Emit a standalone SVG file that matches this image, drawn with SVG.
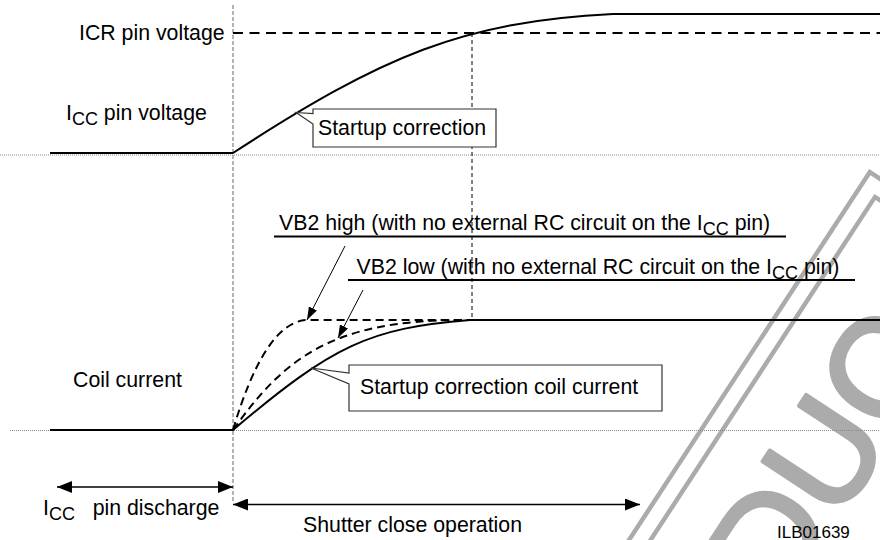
<svg xmlns="http://www.w3.org/2000/svg" width="880" height="540" viewBox="0 0 880 540">
<defs>
<style>
text{font-family:"Liberation Sans",Arial,sans-serif;font-size:21.3px;fill:#000}
.sub{font-size:18px}
.small{font-size:17px}
.grid{stroke:#8a8a8a;stroke-width:1;stroke-dasharray:1 1;fill:none}
.vgrey{stroke:#9a9a9a;stroke-width:1.5;stroke-dasharray:4 2;fill:none}
.wave{stroke:#000;stroke-width:2;fill:none}
.dash{stroke:#000;stroke-width:2;stroke-dasharray:8 5;fill:none}
.icr{stroke:#000;stroke-width:2;stroke-dasharray:10 6.5;fill:none}
.thindash{stroke:#000;stroke-width:1;stroke-dasharray:4 3;fill:none}
.call{fill:#fff;stroke:#333;stroke-width:1.2}
.uline{stroke:#000;stroke-width:2;fill:none}
.arr{stroke:#000;stroke-width:1.3;fill:none}
.ptr{stroke:#000;stroke-width:1;fill:none}
.wm{fill:#ababab;stroke:#ababab;stroke-width:4;stroke-linejoin:round;font-size:140px}
.wmf{fill:none;stroke:#ababab;stroke-width:4.5}
</style>
<marker id="ah" viewBox="0 0 15 12" refX="15" refY="6" markerWidth="15" markerHeight="12" markerUnits="userSpaceOnUse" orient="auto-start-reverse"><path d="M0,0 L15,6 L0,12 Z" fill="#000"/></marker>
<marker id="ahs" viewBox="0 0 13 9" refX="13" refY="4.5" markerWidth="13" markerHeight="9" markerUnits="userSpaceOnUse" orient="auto"><path d="M0,0 L13,4.5 L0,9 Z" fill="#000"/></marker>
</defs>

<g id="watermark" transform="translate(875,197) rotate(-56.8)">
<rect class="wmf" x="-1000" y="0" width="1000" height="200"/>
<rect class="wmf" x="-1018" y="-18" width="1036" height="236"/>
<text class="wm" x="-394.8" y="147">DUC</text>
</g>

<g id="grid">
<line class="grid" x1="0" y1="155" x2="880" y2="155"/>
<line class="grid" x1="10" y1="430.5" x2="880" y2="430.5"/>
<line class="vgrey" x1="233" y1="5" x2="233" y2="503"/>
<line class="thindash" x1="472" y1="33" x2="472" y2="320"/>
</g>

<g id="waveforms">
<line class="icr" x1="233" y1="33" x2="880" y2="33"/>
<path class="wave" d="M50,153 H233 C383,55.5 463,21.5 613,14 H880"/>
<path class="dash" d="M233,430 C253,362 278,320 308,320 H470"/>
<path class="dash" d="M233,430 C283,360 330,320 462,320"/>
<path class="wave" d="M50,430 H233 C333,345 370,328 470,320 H880"/>
</g>

<g id="label-icr"><text x="79" y="39.5">ICR pin voltage</text></g>
<g id="label-icc"><text x="66" y="120">I<tspan class="sub" dy="5">CC</tspan><tspan dy="-5"> pin voltage</tspan></text></g>
<g id="label-coil"><text x="73" y="387">Coil current</text></g>

<g id="callout-startup">
<path class="call" d="M296,112.5 L313,113.5 V109 H496 V147 H313 V124 Z"/>
<text x="318" y="135">Startup correction</text>
</g>

<g id="callout-coil">
<path class="call" d="M311,368 L349,373 V365 H662 V411 H349 V384 Z"/>
<text x="360" y="394">Startup correction coil current</text>
</g>

<g id="label-vb2-high">
<text x="279" y="230">VB2 high (with no external RC circuit on the I<tspan class="sub" dy="5">CC</tspan><tspan dy="-5"> pin)</tspan></text>
<line class="uline" x1="274" y1="236.5" x2="786" y2="236.5"/>
</g>

<g id="label-vb2-low">
<text x="356.5" y="273.5">VB2 low (with no external RC circuit on the I<tspan class="sub" dy="5">CC</tspan><tspan dy="-5"> pin)</tspan></text>
<line class="uline" x1="348" y1="280" x2="855" y2="280"/>
</g>

<g id="label-discharge"><text x="43" y="515">I<tspan class="sub" dy="5">CC</tspan><tspan x="92.7" dy="-5">pin discharge</tspan></text></g>
<g id="label-shutter"><text x="303" y="532">Shutter close operation</text></g>
<g id="label-id"><text class="small" x="777" y="538">ILB01639</text></g>

<g id="connectors">
<line class="ptr" x1="345" y1="246" x2="307" y2="320" marker-end="url(#ahs)"/>
<line class="ptr" x1="363" y1="290" x2="338" y2="338" marker-end="url(#ahs)"/>
<line class="arr" x1="57" y1="487" x2="233" y2="487" marker-start="url(#ah)" marker-end="url(#ah)"/>
<line class="arr" x1="233" y1="504.5" x2="640" y2="504.5" marker-start="url(#ah)" marker-end="url(#ah)"/>
</g>
</svg>
